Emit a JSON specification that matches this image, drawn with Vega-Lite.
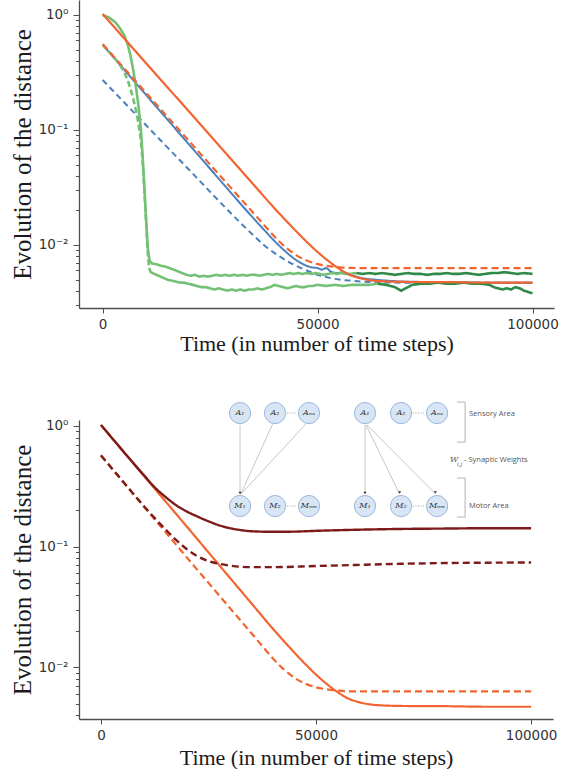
{
"$schema": "https://vega.github.io/schema/vega-lite/v6.json",
"padding": {"left": 10, "top": 0, "right": 2, "bottom": 0},
"background": "white",
"bounds": "flush",
"spacing": 112,
"resolve": {"scale": {"x": "independent", "y": "independent"}, "axis": {"x": "independent", "y": "independent"}},
"config": {"view": {"stroke": null}, "axis": {"grid": false, "domainColor": "#4d4d4d", "domainWidth": 1.3, "tickColor": "#4d4d4d", "tickWidth": 1, "labelColor": "#333333", "labelFont": "DejaVu Sans", "labelFontSize": 13.5, "titleFont": "Liberation Serif", "titleFontWeight": "normal", "titleColor": "#1a1a1a"}},
"datasets": {
"top": [
{"s":"o_s","t":0,"v":1.02},{"s":"o_s","t":5000,"v":0.627},{"s":"o_s","t":10000,"v":0.385},{"s":"o_s","t":15000,"v":0.237},{"s":"o_s","t":20000,"v":0.146},{"s":"o_s","t":25000,"v":0.0895},{"s":"o_s","t":30000,"v":0.055},{"s":"o_s","t":35000,"v":0.0338},{"s":"o_s","t":40000,"v":0.0208},{"s":"o_s","t":42500,"v":0.01652},{"s":"o_s","t":45000,"v":0.01318},{"s":"o_s","t":47500,"v":0.01062},{"s":"o_s","t":50000,"v":0.00869},{"s":"o_s","t":52500,"v":0.00726},{"s":"o_s","t":55000,"v":0.00622},{"s":"o_s","t":57500,"v":0.0055},{"s":"o_s","t":60000,"v":0.00513},{"s":"o_s","t":62500,"v":0.00492},{"s":"o_s","t":65000,"v":0.00483},{"s":"o_s","t":67500,"v":0.00479},{"s":"o_s","t":70000,"v":0.00477},{"s":"o_s","t":80000,"v":0.00475},{"s":"o_s","t":90000,"v":0.0047},{"s":"o_s","t":100000,"v":0.0047},
{"s":"o_d","t":0,"v":0.556},{"s":"o_d","t":5000,"v":0.344},{"s":"o_d","t":10000,"v":0.212},{"s":"o_d","t":15000,"v":0.131},{"s":"o_d","t":20000,"v":0.081},{"s":"o_d","t":25000,"v":0.05},{"s":"o_d","t":30000,"v":0.0309},{"s":"o_d","t":35000,"v":0.0191},{"s":"o_d","t":37500,"v":0.015},{"s":"o_d","t":40000,"v":0.0118},{"s":"o_d","t":42500,"v":0.00959},{"s":"o_d","t":45000,"v":0.00817},{"s":"o_d","t":47500,"v":0.00731},{"s":"o_d","t":50000,"v":0.00682},{"s":"o_d","t":52500,"v":0.00655},{"s":"o_d","t":55000,"v":0.0064},{"s":"o_d","t":57500,"v":0.00631},{"s":"o_d","t":60000,"v":0.0063},{"s":"o_d","t":70000,"v":0.0063},{"s":"o_d","t":100000,"v":0.0063},
{"s":"b_s","t":0,"v":0.55},{"s":"b_s","t":5000,"v":0.335},{"s":"b_s","t":10000,"v":0.204},{"s":"b_s","t":15000,"v":0.124},{"s":"b_s","t":20000,"v":0.0755},{"s":"b_s","t":25000,"v":0.046},{"s":"b_s","t":30000,"v":0.028},{"s":"b_s","t":35000,"v":0.0172},{"s":"b_s","t":37500,"v":0.0136},{"s":"b_s","t":40000,"v":0.0108},{"s":"b_s","t":42500,"v":0.0088},{"s":"b_s","t":45000,"v":0.0074},{"s":"b_s","t":47000,"v":0.0067},{"s":"b_s","t":48500,"v":0.0064},{"s":"b_s","t":50000,"v":0.0063},{"s":"b_s","t":51000,"v":0.0061},{"s":"b_s","t":52000,"v":0.0063},{"s":"b_s","t":53000,"v":0.0059},{"s":"b_s","t":54500,"v":0.0057},{"s":"b_s","t":56000,"v":0.0058},{"s":"b_s","t":57500,"v":0.0055},{"s":"b_s","t":59000,"v":0.0053},{"s":"b_s","t":61000,"v":0.0051},{"s":"b_s","t":63000,"v":0.005},{"s":"b_s","t":66000,"v":0.0049},{"s":"b_s","t":70000,"v":0.0048},{"s":"b_s","t":80000,"v":0.00475},{"s":"b_s","t":90000,"v":0.0047},{"s":"b_s","t":100000,"v":0.0047},
{"s":"b_d","t":0,"v":0.272},{"s":"b_d","t":5000,"v":0.174},{"s":"b_d","t":10000,"v":0.111},{"s":"b_d","t":15000,"v":0.071},{"s":"b_d","t":20000,"v":0.0455},{"s":"b_d","t":25000,"v":0.029},{"s":"b_d","t":30000,"v":0.0186},{"s":"b_d","t":32500,"v":0.015},{"s":"b_d","t":35000,"v":0.0122},{"s":"b_d","t":37500,"v":0.01},{"s":"b_d","t":40000,"v":0.0085},{"s":"b_d","t":42500,"v":0.0074},{"s":"b_d","t":45000,"v":0.0066},{"s":"b_d","t":47500,"v":0.006},{"s":"b_d","t":50000,"v":0.0055},{"s":"b_d","t":52500,"v":0.0052},{"s":"b_d","t":55000,"v":0.005},{"s":"b_d","t":57500,"v":0.0049},{"s":"b_d","t":60000,"v":0.0048},{"s":"b_d","t":70000,"v":0.0047},{"s":"b_d","t":100000,"v":0.0047},
{"s":"g_dd","t":0,"v":0.556},{"s":"g_dd","t":2000,"v":0.458},{"s":"g_dd","t":3800,"v":0.38},{"s":"g_dd","t":5000,"v":0.32},{"s":"g_dd","t":6000,"v":0.26},{"s":"g_dd","t":7000,"v":0.195},{"s":"g_dd","t":8000,"v":0.135},{"s":"g_dd","t":8900,"v":0.082},{"s":"g_dd","t":9500,"v":0.042},{"s":"g_dd","t":10000,"v":0.019},{"s":"g_dd","t":10400,"v":0.0095},{"s":"g_dd","t":10800,"v":0.0063},
{"s":"g_s","t":0,"v":1.0},{"s":"g_s","t":1500,"v":0.95},{"s":"g_s","t":3000,"v":0.86},{"s":"g_s","t":4000,"v":0.77},{"s":"g_s","t":5000,"v":0.67},{"s":"g_s","t":5800,"v":0.56},{"s":"g_s","t":6500,"v":0.44},{"s":"g_s","t":7200,"v":0.32},{"s":"g_s","t":7800,"v":0.23},{"s":"g_s","t":8400,"v":0.155},{"s":"g_s","t":8900,"v":0.1},{"s":"g_s","t":9300,"v":0.06},{"s":"g_s","t":9700,"v":0.032},{"s":"g_s","t":10100,"v":0.017},{"s":"g_s","t":10500,"v":0.0095},{"s":"g_s","t":10900,"v":0.0073},{"s":"g_s","t":11500,"v":0.0069},{"s":"g_s","t":12500,"v":0.0068},{"s":"g_s","t":13500,"v":0.0066},{"s":"g_s","t":14500,"v":0.0065},{"s":"g_s","t":15500,"v":0.0063},{"s":"g_s","t":16500,"v":0.0061},{"s":"g_s","t":17500,"v":0.0059},{"s":"g_s","t":18500,"v":0.0057},{"s":"g_s","t":19500,"v":0.0055},{"s":"g_s","t":20500,"v":0.0054},{"s":"g_s","t":21500,"v":0.0055},{"s":"g_s","t":22500,"v":0.0053},{"s":"g_s","t":23500,"v":0.0054},{"s":"g_s","t":24500,"v":0.0053},{"s":"g_s","t":25500,"v":0.0054},{"s":"g_s","t":26500,"v":0.0055},{"s":"g_s","t":27500,"v":0.0054},{"s":"g_s","t":28500,"v":0.0055},{"s":"g_s","t":29500,"v":0.0054},{"s":"g_s","t":30500,"v":0.0055},{"s":"g_s","t":31500,"v":0.0054},{"s":"g_s","t":32500,"v":0.0055},{"s":"g_s","t":33500,"v":0.0054},{"s":"g_s","t":34500,"v":0.0055},{"s":"g_s","t":35500,"v":0.0055},{"s":"g_s","t":36500,"v":0.0054},{"s":"g_s","t":37500,"v":0.0055},{"s":"g_s","t":38500,"v":0.0056},{"s":"g_s","t":39500,"v":0.0055},{"s":"g_s","t":40500,"v":0.0056},{"s":"g_s","t":41500,"v":0.0055},{"s":"g_s","t":42500,"v":0.0056},{"s":"g_s","t":43500,"v":0.0057},{"s":"g_s","t":44500,"v":0.0056},{"s":"g_s","t":45500,"v":0.0057},{"s":"g_s","t":46500,"v":0.0056},{"s":"g_s","t":47500,"v":0.0057},{"s":"g_s","t":48500,"v":0.0056},{"s":"g_s","t":49500,"v":0.0057},{"s":"g_s","t":50500,"v":0.0056},{"s":"g_s","t":51500,"v":0.0055},{"s":"g_s","t":52500,"v":0.0056},{"s":"g_s","t":53500,"v":0.0057},{"s":"g_s","t":54500,"v":0.0056},{"s":"g_s","t":55500,"v":0.0057},{"s":"g_s","t":56500,"v":0.0056},{"s":"g_s","t":57500,"v":0.0056},{"s":"g_s","t":59000,"v":0.0057},
{"s":"g_s2","t":59000,"v":0.0057},{"s":"g_s2","t":60500,"v":0.0056},{"s":"g_s2","t":62000,"v":0.0057},{"s":"g_s2","t":63500,"v":0.0056},{"s":"g_s2","t":65000,"v":0.0057},{"s":"g_s2","t":66500,"v":0.0056},{"s":"g_s2","t":68000,"v":0.0055},{"s":"g_s2","t":69500,"v":0.0056},{"s":"g_s2","t":71000,"v":0.0057},{"s":"g_s2","t":72500,"v":0.0056},{"s":"g_s2","t":74000,"v":0.0056},{"s":"g_s2","t":75500,"v":0.0055},{"s":"g_s2","t":77000,"v":0.0056},{"s":"g_s2","t":78500,"v":0.0056},{"s":"g_s2","t":80000,"v":0.0057},{"s":"g_s2","t":81500,"v":0.0056},{"s":"g_s2","t":83000,"v":0.0056},{"s":"g_s2","t":84500,"v":0.0057},{"s":"g_s2","t":86000,"v":0.0056},{"s":"g_s2","t":87500,"v":0.0055},{"s":"g_s2","t":89000,"v":0.0056},{"s":"g_s2","t":90500,"v":0.0057},{"s":"g_s2","t":92000,"v":0.0057},{"s":"g_s2","t":93500,"v":0.0058},{"s":"g_s2","t":95000,"v":0.0057},{"s":"g_s2","t":96500,"v":0.0056},{"s":"g_s2","t":98000,"v":0.0057},{"s":"g_s2","t":100000,"v":0.0056},
{"s":"g_d","t":10800,"v":0.0063},{"s":"g_d","t":11200,"v":0.0058},{"s":"g_d","t":12000,"v":0.0056},{"s":"g_d","t":13000,"v":0.0054},{"s":"g_d","t":14000,"v":0.0052},{"s":"g_d","t":15000,"v":0.005},{"s":"g_d","t":16000,"v":0.0049},{"s":"g_d","t":17000,"v":0.0048},{"s":"g_d","t":18000,"v":0.0047},{"s":"g_d","t":19000,"v":0.0047},{"s":"g_d","t":20000,"v":0.0046},{"s":"g_d","t":21000,"v":0.0045},{"s":"g_d","t":22000,"v":0.0044},{"s":"g_d","t":23000,"v":0.0043},{"s":"g_d","t":24000,"v":0.0043},{"s":"g_d","t":25000,"v":0.0042},{"s":"g_d","t":26000,"v":0.0041},{"s":"g_d","t":27000,"v":0.0042},{"s":"g_d","t":28000,"v":0.0041},{"s":"g_d","t":29000,"v":0.004},{"s":"g_d","t":30000,"v":0.0041},{"s":"g_d","t":31000,"v":0.004},{"s":"g_d","t":32000,"v":0.0041},{"s":"g_d","t":33000,"v":0.004},{"s":"g_d","t":34000,"v":0.0041},{"s":"g_d","t":35000,"v":0.0041},{"s":"g_d","t":36000,"v":0.0042},{"s":"g_d","t":37000,"v":0.0041},{"s":"g_d","t":38000,"v":0.0042},{"s":"g_d","t":39000,"v":0.0043},{"s":"g_d","t":40000,"v":0.0045},{"s":"g_d","t":41000,"v":0.0044},{"s":"g_d","t":42000,"v":0.0043},{"s":"g_d","t":43000,"v":0.0042},{"s":"g_d","t":44000,"v":0.0043},{"s":"g_d","t":45000,"v":0.0044},{"s":"g_d","t":46000,"v":0.0043},{"s":"g_d","t":47000,"v":0.0043},{"s":"g_d","t":48000,"v":0.0044},{"s":"g_d","t":49000,"v":0.0044},{"s":"g_d","t":50000,"v":0.0045},{"s":"g_d","t":52000,"v":0.0044},{"s":"g_d","t":54000,"v":0.0045},{"s":"g_d","t":56000,"v":0.0044},{"s":"g_d","t":58000,"v":0.0045},{"s":"g_d","t":60000,"v":0.0045},{"s":"g_d","t":62000,"v":0.0045},{"s":"g_d","t":64000,"v":0.0046},
{"s":"g_d2","t":64000,"v":0.0046},{"s":"g_d2","t":66000,"v":0.0045},{"s":"g_d2","t":68000,"v":0.0043},{"s":"g_d2","t":69500,"v":0.004},{"s":"g_d2","t":71000,"v":0.0043},{"s":"g_d2","t":72000,"v":0.0045},{"s":"g_d2","t":74000,"v":0.0046},{"s":"g_d2","t":76000,"v":0.0046},{"s":"g_d2","t":78000,"v":0.0047},{"s":"g_d2","t":80000,"v":0.0046},{"s":"g_d2","t":82000,"v":0.0046},{"s":"g_d2","t":84000,"v":0.0047},{"s":"g_d2","t":86000,"v":0.0046},{"s":"g_d2","t":88000,"v":0.0046},{"s":"g_d2","t":90000,"v":0.0045},{"s":"g_d2","t":91000,"v":0.0043},{"s":"g_d2","t":92000,"v":0.0042},{"s":"g_d2","t":93000,"v":0.0041},{"s":"g_d2","t":94000,"v":0.0042},{"s":"g_d2","t":95000,"v":0.0041},{"s":"g_d2","t":96000,"v":0.0043},{"s":"g_d2","t":97000,"v":0.0042},{"s":"g_d2","t":98000,"v":0.004},{"s":"g_d2","t":99000,"v":0.0039},{"s":"g_d2","t":100000,"v":0.0038}
],
"bottom": [
{"s":"o_s","t":0,"v":1.02},{"s":"o_s","t":5000,"v":0.627},{"s":"o_s","t":10000,"v":0.385},{"s":"o_s","t":15000,"v":0.237},{"s":"o_s","t":20000,"v":0.146},{"s":"o_s","t":25000,"v":0.0895},{"s":"o_s","t":30000,"v":0.055},{"s":"o_s","t":35000,"v":0.0338},{"s":"o_s","t":40000,"v":0.0208},{"s":"o_s","t":42500,"v":0.01652},{"s":"o_s","t":45000,"v":0.01318},{"s":"o_s","t":47500,"v":0.01062},{"s":"o_s","t":50000,"v":0.00869},{"s":"o_s","t":52500,"v":0.00726},{"s":"o_s","t":55000,"v":0.00622},{"s":"o_s","t":57500,"v":0.0055},{"s":"o_s","t":60000,"v":0.00513},{"s":"o_s","t":62500,"v":0.00492},{"s":"o_s","t":65000,"v":0.00483},{"s":"o_s","t":67500,"v":0.00479},{"s":"o_s","t":70000,"v":0.00477},{"s":"o_s","t":80000,"v":0.00475},{"s":"o_s","t":90000,"v":0.0047},{"s":"o_s","t":100000,"v":0.0047},
{"s":"o_d","t":0,"v":0.57},{"s":"o_d","t":5000,"v":0.35},{"s":"o_d","t":10000,"v":0.214},{"s":"o_d","t":15000,"v":0.132},{"s":"o_d","t":20000,"v":0.081},{"s":"o_d","t":25000,"v":0.05},{"s":"o_d","t":30000,"v":0.0309},{"s":"o_d","t":35000,"v":0.0191},{"s":"o_d","t":37500,"v":0.015},{"s":"o_d","t":40000,"v":0.0118},{"s":"o_d","t":42500,"v":0.00959},{"s":"o_d","t":45000,"v":0.00817},{"s":"o_d","t":47500,"v":0.00731},{"s":"o_d","t":50000,"v":0.00682},{"s":"o_d","t":52500,"v":0.00655},{"s":"o_d","t":55000,"v":0.0064},{"s":"o_d","t":57500,"v":0.00631},{"s":"o_d","t":60000,"v":0.0063},{"s":"o_d","t":70000,"v":0.0063},{"s":"o_d","t":100000,"v":0.0063},
{"s":"r_s","t":0,"v":1.02},{"s":"r_s","t":5000,"v":0.627},{"s":"r_s","t":10000,"v":0.39},{"s":"r_s","t":12500,"v":0.31},{"s":"r_s","t":15000,"v":0.258},{"s":"r_s","t":17500,"v":0.22},{"s":"r_s","t":20000,"v":0.195},{"s":"r_s","t":22500,"v":0.177},{"s":"r_s","t":25000,"v":0.162},{"s":"r_s","t":27500,"v":0.15},{"s":"r_s","t":30000,"v":0.142},{"s":"r_s","t":32500,"v":0.137},{"s":"r_s","t":35000,"v":0.134},{"s":"r_s","t":40000,"v":0.1325},{"s":"r_s","t":45000,"v":0.133},{"s":"r_s","t":50000,"v":0.135},{"s":"r_s","t":60000,"v":0.138},{"s":"r_s","t":70000,"v":0.14},{"s":"r_s","t":80000,"v":0.141},{"s":"r_s","t":90000,"v":0.142},{"s":"r_s","t":100000,"v":0.142},
{"s":"r_d","t":0,"v":0.57},{"s":"r_d","t":5000,"v":0.35},{"s":"r_d","t":10000,"v":0.216},{"s":"r_d","t":12500,"v":0.172},{"s":"r_d","t":15000,"v":0.139},{"s":"r_d","t":17500,"v":0.113},{"s":"r_d","t":20000,"v":0.095},{"s":"r_d","t":22500,"v":0.083},{"s":"r_d","t":25000,"v":0.076},{"s":"r_d","t":27500,"v":0.072},{"s":"r_d","t":30000,"v":0.0695},{"s":"r_d","t":32500,"v":0.068},{"s":"r_d","t":35000,"v":0.0675},{"s":"r_d","t":40000,"v":0.0675},{"s":"r_d","t":50000,"v":0.069},{"s":"r_d","t":60000,"v":0.0705},{"s":"r_d","t":70000,"v":0.072},{"s":"r_d","t":80000,"v":0.073},{"s":"r_d","t":90000,"v":0.0735},{"s":"r_d","t":100000,"v":0.0738}
],
"nodes": [
{"nx":32341,"ny":1.279,"lab":"A₁"},{"nx":40479,"ny":1.279,"lab":"A₂"},{"nx":48372,"ny":1.279,"lab":"Aₙₐ"},
{"nx":32341,"ny":0.2167,"lab":"M₁"},{"nx":40479,"ny":0.2167,"lab":"M₂"},{"nx":48372,"ny":0.2167,"lab":"Mₙₘ"},
{"nx":61392,"ny":1.279,"lab":"A₁"},{"nx":69774,"ny":1.279,"lab":"A₂"},{"nx":78155,"ny":1.279,"lab":"Aₙₐ"},
{"nx":61392,"ny":0.2167,"lab":"M₁"},{"nx":69774,"ny":0.2167,"lab":"M₂"},{"nx":78155,"ny":0.2167,"lab":"Mₙₘ"}
],
"edges": [
{"x1":32341,"y1":1.0174,"x2":32341,"y2":0.2724},
{"x1":39909,"y1":1.0337,"x2":32504,"y2":0.2724},
{"x1":47803,"y1":1.0522,"x2":32585,"y2":0.2724},
{"x1":61392,"y1":1.0174,"x2":61392,"y2":0.2724},
{"x1":61636,"y1":1.0174,"x2":69367,"y2":0.2754},
{"x1":61799,"y1":1.0245,"x2":77667,"y2":0.2754}
],
"dots": [
{"x1":43246,"y1":1.279,"x2":45606,"y2":1.279},{"x1":43246,"y1":0.2167,"x2":45606,"y2":0.2167},
{"x1":72540,"y1":1.279,"x2":75388,"y2":1.279},{"x1":72540,"y1":0.2167,"x2":75388,"y2":0.2167}
],
"brackets": [
{"x1":84665,"y1":1.577,"x2":84665,"y2":0.7348},{"x1":82794,"y1":1.577,"x2":84665,"y2":1.577},{"x1":82794,"y1":0.7348,"x2":84665,"y2":0.7348},
{"x1":84665,"y1":0.3697,"x2":84665,"y2":0.1757},{"x1":82794,"y1":0.3697,"x2":84665,"y2":0.3697},{"x1":82794,"y1":0.1757,"x2":84665,"y2":0.1757}
],
"arrows": [
{"ax":32341,"ay":0.2779},{"ax":61392,"ay":0.2779},{"ax":69448,"ay":0.2803},{"ax":77749,"ay":0.2803}
],
"texts": [
{"k":"sans","tx":85560,"ty":1.2566,"txt":"Sensory Area"},
{"k":"sans","tx":85560,"ty":0.2167,"txt":"Motor Area"},
{"k":"sans","tx":84421,"ty":0.5219,"txt":"- Synaptic Weights"},
{"k":"w","tx":81166,"ty":0.5219,"txt":"W"},
{"k":"sub","tx":82794,"ty":0.486,"txt":"i,j"}
]
},
"vconcat": [
{
"width": 475, "height": 308,
"data": {"name": "top"},
"encoding": {
"x": {"field": "t", "type": "quantitative", "scale": {"domain": [-5500, 105000], "nice": false, "zero": false},
 "axis": {"values": [0, 50000, 100000], "format": "d", "tickSize": 5, "labelPadding": 4, "labelFlush": false, "title": "Time (in number of time steps)", "titleFontSize": 22, "titleFontWeight": "normal", "titlePadding": 3}},
"y": {"field": "v", "type": "quantitative", "scale": {"type": "log", "domain": [0.00283, 1.35], "nice": false},
 "axis": {"values": [0.003,0.004,0.005,0.006,0.007,0.008,0.009,0.01,0.02,0.03,0.04,0.05,0.06,0.07,0.08,0.09,0.1,0.2,0.3,0.4,0.5,0.6,0.7,0.8,0.9,1],
  "labelExpr": "datum.value === 1 ? '10⁰' : datum.value === 0.1 ? '10⁻¹' : datum.value === 0.01 ? '10⁻²' : ''",
  "labelOverlap": false, "labelFlush": false, "labelPadding": 5,
  "tickSize": {"condition": {"test": "datum.value === 1 || datum.value === 0.1 || datum.value === 0.01", "value": 6}, "value": 3.5},
  "title": "Evolution of the distance", "titleFontSize": 25, "titleFontWeight": "normal", "titlePadding": 3}},
"color": {"field": "s", "type": "nominal", "legend": null,
 "scale": {"domain": ["o_s","o_d","b_s","b_d","g_s","g_dd","g_d","g_s2","g_d2","r_s","r_d"], "range": ["#f26430","#f26430","#4a80bd","#4a80bd","#74c176","#74c176","#74c176","#2e8a48","#2e8a48","#7d1a1a","#7d1a1a"]}},
"strokeDash": {"field": "s", "type": "nominal", "legend": null,
 "scale": {"domain": ["o_s","o_d","b_s","b_d","g_s","g_dd","g_d","g_s2","g_d2","r_s","r_d"], "range": [[1,0],[7,4],[1,0],[6,4],[1,0],[6,3],[1,0],[1,0],[1,0],[1,0],[7,4]]}}
},
"layer": [
{"transform": [{"filter": "datum.s === 'b_s' || datum.s === 'b_d'"}], "mark": {"type": "line", "strokeWidth": 2, "interpolate": "monotone"}},
{"transform": [{"filter": "indexof(datum.s, 'g_') === 0"}], "mark": {"type": "line", "strokeWidth": 2.6, "interpolate": "linear"}},
{"transform": [{"filter": "datum.s === 'o_s' || datum.s === 'o_d'"}], "mark": {"type": "line", "strokeWidth": 2.2, "interpolate": "monotone"}}
]
},
{
"width": 474, "height": 299,
"layer": [
{
"data": {"name": "bottom"},
"encoding": {
"x": {"field": "t", "type": "quantitative", "scale": {"domain": [-5100, 105100], "nice": false, "zero": false},
 "axis": {"values": [0, 50000, 100000], "format": "d", "tickSize": 5, "labelPadding": 4, "labelFlush": false, "title": "Time (in number of time steps)", "titleFontSize": 22, "titleFontWeight": "normal", "titlePadding": 6}},
"y": {"field": "v", "type": "quantitative", "scale": {"type": "log", "domain": [0.00372, 1.12], "nice": false},
 "axis": {"values": [0.004,0.005,0.006,0.007,0.008,0.009,0.01,0.02,0.03,0.04,0.05,0.06,0.07,0.08,0.09,0.1,0.2,0.3,0.4,0.5,0.6,0.7,0.8,0.9,1],
  "labelExpr": "datum.value === 1 ? '10⁰' : datum.value === 0.1 ? '10⁻¹' : datum.value === 0.01 ? '10⁻²' : ''",
  "labelOverlap": false, "labelFlush": false, "labelPadding": 5,
  "tickSize": {"condition": {"test": "datum.value === 1 || datum.value === 0.1 || datum.value === 0.01", "value": 6}, "value": 3.5},
  "title": "Evolution of the distance", "titleFontSize": 25, "titleFontWeight": "normal", "titlePadding": 3}},
"color": {"field": "s", "type": "nominal", "legend": null,
 "scale": {"domain": ["o_s","o_d","b_s","b_d","g_s","g_dd","g_d","g_s2","g_d2","r_s","r_d"], "range": ["#f26430","#f26430","#4a80bd","#4a80bd","#74c176","#74c176","#74c176","#2e8a48","#2e8a48","#7d1a1a","#7d1a1a"]}},
"strokeDash": {"field": "s", "type": "nominal", "legend": null,
 "scale": {"domain": ["o_s","o_d","b_s","b_d","g_s","g_dd","g_d","g_s2","g_d2","r_s","r_d"], "range": [[1,0],[7,4],[1,0],[6,4],[1,0],[6,3],[1,0],[1,0],[1,0],[1,0],[7,4]]}}
},
"layer": [
{"transform": [{"filter": "datum.s === 'o_s' || datum.s === 'o_d'"}], "mark": {"type": "line", "strokeWidth": 2.2, "interpolate": "monotone"}},
{"transform": [{"filter": "datum.s === 'r_s' || datum.s === 'r_d'"}], "mark": {"type": "line", "strokeWidth": 2.4, "interpolate": "monotone"}}
]
},
{"data": {"name": "edges"}, "mark": {"type": "rule", "color": "#b8b8b8", "strokeWidth": 0.8},
 "encoding": {"x": {"field": "x1", "type": "quantitative"}, "y": {"field": "y1", "type": "quantitative"}, "x2": {"field": "x2"}, "y2": {"field": "y2"}}},
{"data": {"name": "dots"}, "mark": {"type": "rule", "color": "#888888", "strokeWidth": 0.8, "strokeDash": [1, 1.5]},
 "encoding": {"x": {"field": "x1", "type": "quantitative"}, "y": {"field": "y1", "type": "quantitative"}, "x2": {"field": "x2"}, "y2": {"field": "y2"}}},
{"data": {"name": "brackets"}, "mark": {"type": "rule", "color": "#a8a8a8", "strokeWidth": 0.9},
 "encoding": {"x": {"field": "x1", "type": "quantitative"}, "y": {"field": "y1", "type": "quantitative"}, "x2": {"field": "x2"}, "y2": {"field": "y2"}}},
{"data": {"name": "nodes"}, "mark": {"type": "point", "filled": true, "shape": "circle", "size": 450, "fill": "#d8e5f4", "stroke": "#9bb8da", "strokeWidth": 1, "opacity": 1},
 "encoding": {"x": {"field": "nx", "type": "quantitative"}, "y": {"field": "ny", "type": "quantitative"}}},
{"data": {"name": "nodes"}, "mark": {"type": "text", "font": "DejaVu Serif", "fontStyle": "italic", "fontSize": 8, "color": "#333333", "align": "center", "baseline": "middle"},
 "encoding": {"x": {"field": "nx", "type": "quantitative"}, "y": {"field": "ny", "type": "quantitative"}, "text": {"field": "lab"}}},
{"data": {"name": "arrows"}, "mark": {"type": "point", "filled": true, "shape": "triangle-down", "size": 9, "color": "#333333", "opacity": 1},
 "encoding": {"x": {"field": "ax", "type": "quantitative"}, "y": {"field": "ay", "type": "quantitative"}}},
{"data": {"name": "texts"}, "transform": [{"filter": "datum.k === 'sans'"}], "mark": {"type": "text", "font": "Open Sans", "fontSize": 7.5, "color": "#555555", "align": "left", "baseline": "middle"},
 "encoding": {"x": {"field": "tx", "type": "quantitative"}, "y": {"field": "ty", "type": "quantitative"}, "text": {"field": "txt"}}},
{"data": {"name": "texts"}, "transform": [{"filter": "datum.k === 'w'"}], "mark": {"type": "text", "font": "DejaVu Serif", "fontStyle": "italic", "fontSize": 8, "color": "#555555", "align": "left", "baseline": "middle"},
 "encoding": {"x": {"field": "tx", "type": "quantitative"}, "y": {"field": "ty", "type": "quantitative"}, "text": {"field": "txt"}}},
{"data": {"name": "texts"}, "transform": [{"filter": "datum.k === 'sub'"}], "mark": {"type": "text", "font": "DejaVu Serif", "fontStyle": "italic", "fontSize": 5.5, "color": "#555555", "align": "left", "baseline": "middle"},
 "encoding": {"x": {"field": "tx", "type": "quantitative"}, "y": {"field": "ty", "type": "quantitative"}, "text": {"field": "txt"}}}
]
}
]
}
